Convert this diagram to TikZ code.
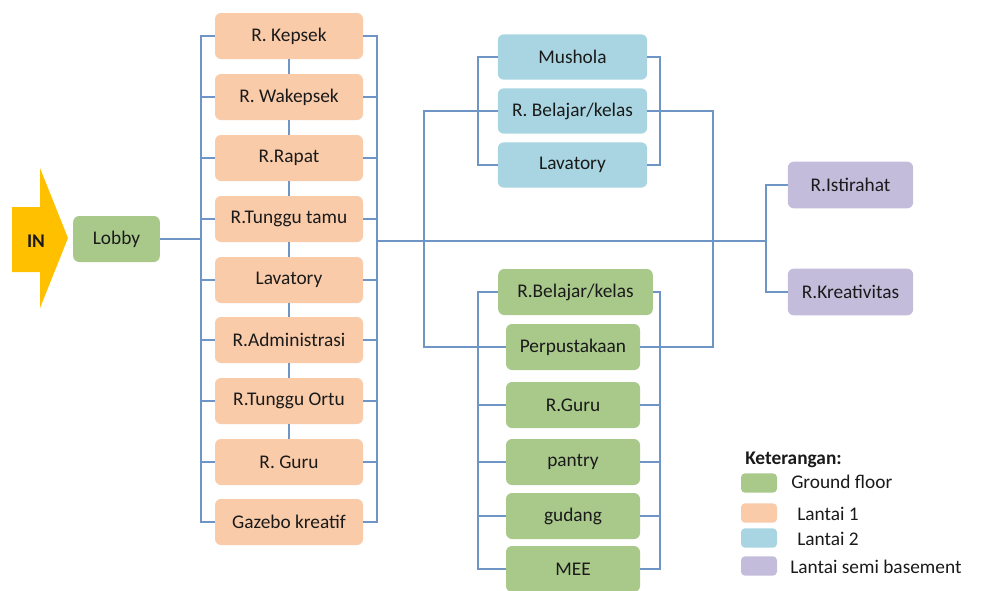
\documentclass[tikz,border=0pt]{standalone}
\usepackage{fontspec}
\setmainfont{Carlito}
\definecolor{gfloor}{HTML}{A9C98B}
\definecolor{lt1}{HTML}{F9CBA9}
\definecolor{lt2}{HTML}{A8D5E1}
\definecolor{semib}{HTML}{C4BCDB}
\definecolor{linec}{HTML}{6F94C6}
\definecolor{inarrow}{HTML}{FFC000}
\definecolor{ink}{HTML}{1A1A1A}
\begin{document}
\begin{tikzpicture}[x=0.75pt,y=-0.75pt,
  room/.style={rounded corners=4.5pt,inner sep=0pt,text=ink,
    font=\fontsize{14.5}{17}\selectfont,minimum height=34.5pt},
  orange/.style={room,fill=lt1,minimum width=111pt},
  blue/.style={room,fill=lt2,minimum width=112pt,minimum height=34pt},
  green/.style={room,fill=gfloor,minimum width=100.5pt},
  purple/.style={room,fill=semib,minimum width=94pt,minimum height=35pt},
  link/.style={draw=linec,line width=0.8pt},
  swatch/.style={rounded corners=3pt,inner sep=0pt,minimum width=27pt,minimum height=14.5pt},
  legtext/.style={anchor=west,inner sep=0pt,text=ink,font=\fontsize{14.5}{17}\selectfont}]
\useasboundingbox (0,0) rectangle (983,590);

% entrance arrow and lobby
\fill[inarrow] (12,207) -- (40,207) -- (40,168) -- (68,238) -- (40,308) -- (40,272) -- (12,272) -- cycle;
\node[text=ink,font=\fontsize{14.5}{17}\selectfont\bfseries] (in) at (36,241) {IN};
\node[room,fill=gfloor,minimum width=65pt] (lobby) at (116.5,239) {Lobby};

% first floor column
\node[orange] (kepsek) at (289,36) {R. Kepsek};
\node[orange] (wakep)  at (289,97) {R. Wakepsek};
\node[orange] (rapat)  at (289,158) {R.Rapat};
\node[orange] (tamu)   at (289,219) {R.Tunggu tamu};
\node[orange] (lav1)   at (289,280) {Lavatory};
\node[orange] (admin)  at (289,340) {R.Administrasi};
\node[orange] (ortu)   at (289,401) {R.Tunggu Ortu};
\node[orange] (guru1)  at (289,462) {R. Guru};
\node[orange] (gazebo) at (289,522) {Gazebo kreatif};

% second floor group
\node[blue] (mushola) at (572.5,57) {Mushola};
\node[blue] (bel2)    at (572.5,111) {R. Belajar/kelas};
\node[blue] (lav2)    at (572.5,165) {Lavatory};

% ground floor group
\node[green,minimum width=116pt] (bel0) at (575.5,292) {R.Belajar/kelas};
\node[green] (perpus) at (573,347) {Perpustakaan};
\node[green] (guru0)  at (573,405) {R.Guru};
\node[green] (pantry) at (573,462) {pantry};
\node[green] (gudang) at (573,516) {gudang};
\node[green] (mee)    at (573,569) {MEE};

% semi basement
\node[purple] (istir) at (850.5,185) {R.Istirahat};
\node[purple] (kreat) at (850.5,292) {R.Kreativitas};

% bus positions
\coordinate (lb) at (201,241);
\coordinate (rb) at (377,241);
\coordinate (pb) at (766,241);
\coordinate (lx) at (424,0);
\coordinate (rx) at (713,0);
\coordinate (gl) at (478,0);
\coordinate (gr) at (660,0);

% lobby to first floor
\draw[link] (lobby.east) -- (lobby.east -| lb);
\draw[link] (kepsek.west) -- (kepsek.west -| lb) -- (gazebo.west -| lb) -- (gazebo.west);
\draw[link] (kepsek.east) -- (kepsek.east -| rb) -- (gazebo.east -| rb) -- (gazebo.east);
\foreach \r in {wakep,rapat,tamu,lav1,admin,ortu,guru1}{
  \draw[link] (\r.west) -- (\r.west -| lb);
  \draw[link] (\r.east) -- (\r.east -| rb);
}
\draw[link] (kepsek) -- (wakep);
\draw[link] (wakep) -- (rapat);
\draw[link] (rapat) -- (tamu);
\draw[link] (tamu) -- (lav1);
\draw[link] (lav1) -- (admin);
\draw[link] (admin) -- (ortu);
\draw[link] (ortu) -- (guru1);

% main corridor
\draw[link] (rb) -- (pb);
\draw[link] (istir.west) -- (istir.west -| pb) -- (kreat.west -| pb) -- (kreat.west);

% loops joining the upper and ground groups
\draw[link] (bel2.west) -- (bel2.west -| lx) -- (perpus.west -| lx) -- (perpus.west);
\draw[link] (bel2.east) -- (bel2.east -| rx) -- (perpus.east -| rx) -- (perpus.east);

% second floor brackets
\draw[link] (mushola.west) -- (mushola.west -| gl) -- (lav2.west -| gl) -- (lav2.west);
\draw[link] (mushola.east) -- (mushola.east -| gr) -- (lav2.east -| gr) -- (lav2.east);

% ground floor brackets
\draw[link] (bel0.west) -- (bel0.west -| gl) -- (mee.west -| gl) -- (mee.west);
\draw[link] (bel0.east) -- (bel0.east -| gr) -- (mee.east -| gr) -- (mee.east);
\foreach \r in {guru0,pantry,gudang}{
  \draw[link] (\r.west) -- (\r.west -| gl);
  \draw[link] (\r.east) -- (\r.east -| gr);
}

% legend
\node[anchor=west,inner sep=0pt,text=ink,font=\fontsize{14.5}{17}\selectfont\bfseries] (ket) at (745,460) {Keterangan:};
\node[swatch,fill=gfloor] (sw0) at (759,483) {};
\node[swatch,fill=lt1]    (sw1) at (759,513) {};
\node[swatch,fill=lt2]    (sw2) at (759,538) {};
\node[swatch,fill=semib]  (sw3) at (759,566) {};
\node[legtext] (lg0) at (791,482) {Ground floor};
\node[legtext] (lg1) at (797,514) {Lantai 1};
\node[legtext] (lg2) at (797,539) {Lantai 2};
\node[legtext] (lg3) at (790,567) {Lantai semi basement};
\end{tikzpicture}
\end{document}
